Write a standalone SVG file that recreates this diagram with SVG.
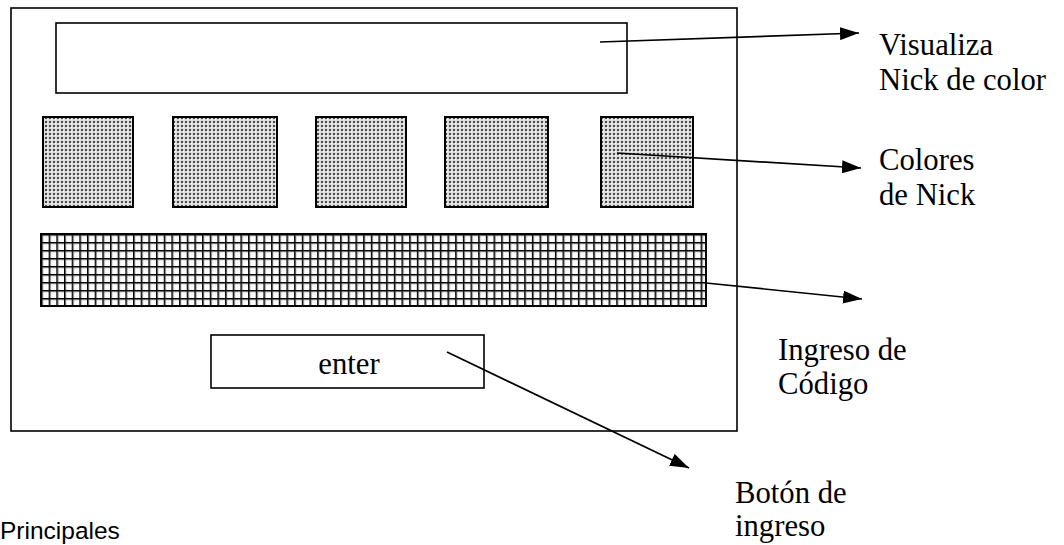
<svg xmlns="http://www.w3.org/2000/svg" width="1064" height="545" viewBox="0 0 1064 545">
  <style>
    .box { fill: none; stroke: #000; stroke-width: 1.6; }
    .swatch { fill: url(#dots); stroke: #000; stroke-width: 2; }
    .lbl { font-family: "Liberation Serif", "Times New Roman", serif; font-size: 30.7px; fill: #000; }
    .link { stroke: #000; stroke-width: 1.7; fill: none; marker-end: url(#head); }
  </style>
  <defs>
    <!-- stippled fill for the colour swatches -->
    <pattern id="dots" width="4" height="4" patternUnits="userSpaceOnUse">
      <rect width="4" height="4" fill="#dcdcdc"/>
      <rect x="1" y="1" width="2" height="2" fill="#4a4a4a"/>
      <rect x="3" y="3" width="1" height="1" fill="#fafafa"/>
    </pattern>
    <!-- fine grid for the code entry strip -->
    <pattern id="grid" x="41" y="234" width="7.67" height="8" patternUnits="userSpaceOnUse">
      <rect width="7.67" height="8" fill="#fff"/>
      <path d="M0.6 0V8M0 0.6H7.67" stroke="#999" stroke-width="3.2"/>
      <path d="M0.6 0V8M0 0.6H7.67" stroke="#000" stroke-width="1.4"/>
    </pattern>
    <marker id="head" viewBox="0 0 19 13" refX="19" refY="6.5" markerWidth="19" markerHeight="13" markerUnits="userSpaceOnUse" orient="auto">
      <path d="M0 0L19 6.5L0 13Z" fill="#000"/>
    </marker>
  </defs>

  <g id="frame">
    <rect class="box" x="11" y="8" width="726" height="423"/>
  </g>

  <g id="display">
    <rect class="box" x="56" y="23" width="571" height="70"/>
  </g>

  <g id="swatches">
    <rect class="swatch" x="43" y="117" width="90" height="90"/>
    <rect class="swatch" x="173" y="117" width="104" height="90"/>
    <rect class="swatch" x="316" y="117" width="90" height="90"/>
    <rect class="swatch" x="445" y="117" width="103" height="90"/>
    <rect class="swatch" x="601" y="117" width="92" height="90"/>
  </g>

  <g id="code-entry">
    <rect x="41" y="234" width="665" height="72" fill="url(#grid)" stroke="#000" stroke-width="2"/>
  </g>

  <g id="enter-button">
    <rect class="box" x="211" y="335" width="273" height="53"/>
    <text class="lbl" x="349" y="374" text-anchor="middle">enter</text>
  </g>

  <g id="connectors">
    <line class="link" x1="600" y1="42" x2="859" y2="33"/>
    <line class="link" x1="617" y1="153" x2="861" y2="168"/>
    <line class="link" x1="706" y1="283" x2="862" y2="299"/>
    <line class="link" x1="447" y1="352" x2="689" y2="468"/>
  </g>

  <g id="labels">
    <text class="lbl" x="879" y="55">Visualiza</text>
    <text class="lbl" x="879" y="90">Nick de color</text>
    <text class="lbl" x="879" y="170">Colores</text>
    <text class="lbl" x="879" y="205">de Nick</text>
    <text class="lbl" x="778" y="360">Ingreso de</text>
    <text class="lbl" x="778" y="394">Código</text>
    <text class="lbl" x="735" y="503">Botón de</text>
    <text class="lbl" x="735" y="536">ingreso</text>
  </g>

  <text x="0" y="539" font-family="'Liberation Sans', Arial, sans-serif" font-size="24.5" fill="#000">Principales</text>
</svg>
